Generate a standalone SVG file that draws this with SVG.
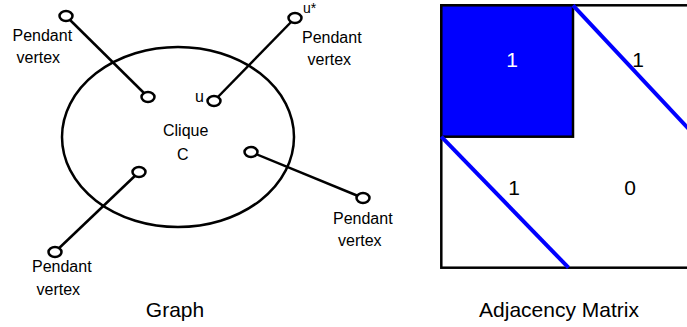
<svg xmlns="http://www.w3.org/2000/svg" width="687" height="327" viewBox="0 0 687 327">
<style>
  text { font-family: "Liberation Sans", Arial, sans-serif; fill: #000; }
  .lbl { font-size: 16px; }
  .big { font-size: 21px; }
  .edge { stroke: #000; stroke-width: 2.5; fill: none; }
  .v { fill: #fff; stroke: #000; stroke-width: 2.5; }
  .blue { stroke: #0000ff; stroke-width: 4; fill: none; }
</style>
<rect x="0" y="0" width="687" height="327" fill="#fff"/>

<g id="clique">
  <ellipse cx="178" cy="137" rx="116" ry="90" fill="none" stroke="#000" stroke-width="2.5"/>
  <text class="lbl" x="163" y="136">Clique</text>
  <text class="lbl" x="177" y="160">C</text>
</g>

<g id="connectors">
  <line class="edge" x1="66" y1="16" x2="148" y2="97"/>
  <line class="edge" x1="295" y1="18" x2="214" y2="101"/>
  <line class="edge" x1="251" y1="152" x2="363" y2="198"/>
  <line class="edge" x1="139" y1="172" x2="55" y2="252"/>
</g>

<g id="p1">
  <ellipse class="v" cx="66" cy="16" rx="6.5" ry="5"/>
  <text class="lbl" x="12.5" y="41">Pendant</text>
  <text class="lbl" x="16.5" y="63">vertex</text>
</g>
<g id="c1">
  <ellipse class="v" cx="148" cy="97" rx="6.5" ry="5"/>
</g>
<g id="ustar">
  <ellipse class="v" cx="295" cy="18" rx="6.5" ry="5"/>
  <text x="303" y="13" style="font-size:14px">u*</text>
  <text class="lbl" x="302" y="42.5">Pendant</text>
  <text class="lbl" x="307.5" y="65">vertex</text>
</g>
<g id="u">
  <ellipse class="v" cx="214" cy="101" rx="6.5" ry="5"/>
  <text class="lbl" x="195" y="102">u</text>
</g>
<g id="c3">
  <ellipse class="v" cx="251" cy="152" rx="6.5" ry="5"/>
</g>
<g id="p3">
  <ellipse class="v" cx="363" cy="198" rx="6.5" ry="5"/>
  <text class="lbl" x="333" y="224">Pendant</text>
  <text class="lbl" x="338" y="246">vertex</text>
</g>
<g id="c4">
  <ellipse class="v" cx="139" cy="172" rx="6.5" ry="5"/>
</g>
<g id="p4">
  <ellipse class="v" cx="55" cy="252" rx="6.5" ry="5"/>
  <text class="lbl" x="32" y="272">Pendant</text>
  <text class="lbl" x="36.5" y="295">vertex</text>
</g>

<g id="graph-title">
  <text class="big" x="175" y="317" text-anchor="middle">Graph</text>
</g>

<g id="matrix">
  <rect x="441.3" y="5.3" width="270" height="262.4" fill="#fff" stroke="#000" stroke-width="2.5"/>
  <rect x="441.3" y="5.3" width="131.7" height="131.4" fill="#0000ff" stroke="#000" stroke-width="2.5"/>
  <line class="blue" x1="573" y1="5.3" x2="700" y2="141"/>
  <line class="blue" x1="441.3" y1="136.7" x2="568.5" y2="267.7"/>
  <text class="big" x="512" y="67" text-anchor="middle" style="fill:#fff">1</text>
  <text class="big" x="638" y="67" text-anchor="middle">1</text>
  <text class="big" x="514" y="194.5" text-anchor="middle">1</text>
  <text class="big" x="630" y="194.5" text-anchor="middle">0</text>
  <text class="big" x="559" y="317" text-anchor="middle">Adjacency Matrix</text>
</g>
</svg>
